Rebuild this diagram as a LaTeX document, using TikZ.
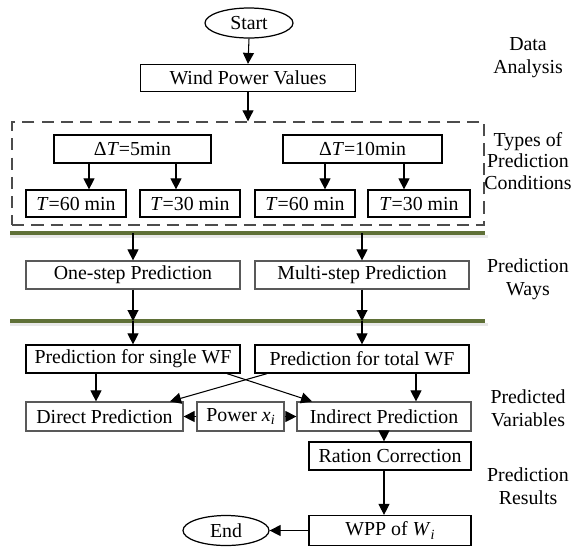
\documentclass[tikz,border=0pt]{standalone}
\usepackage{fontspec}
\setmainfont{Liberation Serif}
\usepackage{tikz}
\usetikzlibrary{arrows.meta,calc,shapes.geometric}

\definecolor{sepgreen}{RGB}{95,112,55}
\newcommand{\lowidx}[1]{\raisebox{-0.35ex}{\footnotesize\textit{#1}}}

\begin{document}
\begin{tikzpicture}[
  stepbox/.style={draw, line width=0.7pt, minimum height=5.6mm, minimum width=42.8mm, inner sep=1pt},
  softbox/.style={stepbox, draw=black!65},
  termnode/.style={draw, line width=0.7pt, ellipse, minimum width=17.6mm, minimum height=6mm, inner sep=0pt},
  condframe/.style={draw=black!70, line width=0.8pt, dash pattern=on 7pt off 4pt, minimum width=94.4mm, minimum height=20.6mm},
  sepbar/.style={line width=2.3pt, sepgreen},
  sepshadow/.style={line width=1.6pt, gray!18},
  stagelabel/.style={align=center, font=\fontsize{11.3}{13.2}\selectfont},
  arr/.style={-{Triangle[length=2.2mm, width=2.2mm]}, line width=0.6pt},
  every node/.style={font=\fontsize{11.3}{13.2}\selectfont}]
  \useasboundingbox (0,0) rectangle (11.5,-10.96);
  % Start and raw data
  \node[termnode] (start) at (4.98,-0.46) {Start};
  \node[stepbox, minimum width=43mm, minimum height=5.4mm] (wpv) at (4.96,-1.56) {Wind Power Values};
  \draw[arr] (start.south) -- (wpv.north);
  % Dashed frame round the prediction conditions
  \node[condframe] (cond) at (4.96,-3.47) {};
  \draw[arr] (wpv.south) -- (cond.north);
  \node[stepbox, minimum width=31.4mm] (dt5) at (2.65,-2.98) {Δ\textit{T}=5min};
  \node[stepbox, minimum width=31.8mm] (dt10) at (7.25,-2.98) {Δ\textit{T}=10min};
  \node[stepbox, minimum width=20mm, minimum height=5.4mm] (ta) at (1.52,-4.07) {\textit{T}=60 min};
  \node[stepbox, minimum width=20mm, minimum height=5.4mm] (tb) at (3.80,-4.07) {\textit{T}=30 min};
  \node[stepbox, minimum width=20mm, minimum height=5.4mm] (tc) at (6.10,-4.07) {\textit{T}=60 min};
  \node[stepbox, minimum width=20.4mm, minimum height=5.4mm] (td) at (8.38,-4.07) {\textit{T}=30 min};
  \draw[arr] ($(dt5.south)+(-0.87,0)$) coordinate (d1) -- (d1 |- ta.north);
  \draw[arr] ($(dt5.south)+(0.87,0)$) coordinate (d2) -- (d2 |- tb.north);
  \draw[arr] ($(dt10.south)+(-0.75,0)$) coordinate (d3) -- (d3 |- tc.north);
  \draw[arr] ($(dt10.south)+(0.83,0)$) coordinate (d4) -- (d4 |- td.north);
  % Green separators (with a faint shadow)
  \coordinate (sepA) at (0.2,-4.66);
  \coordinate (sepB) at (0.2,-6.42);
  \draw[sepshadow] ($(sepA)+(0,-0.07)$) -- ++(9.55,0);
  \draw[sepshadow] ($(sepB)+(0,-0.07)$) -- ++(9.55,0);
  \draw[sepbar] (sepA) -- ++(9.5,0);
  \draw[sepbar] (sepB) -- ++(9.5,0);
  % Prediction ways
  \node[softbox] (one) at (2.66,-5.50) {One-step Prediction};
  \node[softbox] (multi) at (7.24,-5.50) {Multi-step Prediction};
  \draw[arr] (sepA -| one) -- (one.north);
  \draw[arr] (sepA -| multi) -- (multi.north);
  \draw[arr] (one.south) -- (sepB -| one);
  \draw[arr] (multi.south) -- (sepB -| multi);
  % Predicted variables
  \node[stepbox] (single) at (2.66,-7.18) {Prediction for single WF};
  \node[stepbox] (total) at (7.24,-7.18) {Prediction for total WF};
  \draw[arr] (sepB -| one) -- (single.north);
  \draw[arr] (sepB -| multi) -- (total.north);
  \node[softbox, minimum width=31.4mm, minimum height=5.8mm] (direct) at (2.09,-8.33) {Direct Prediction};
  \node[softbox, minimum width=17.4mm, minimum height=5.8mm] (power) at (4.81,-8.33) {Power \textit{x}\lowidx{i}};
  \node[softbox, minimum width=34.8mm, minimum height=5.8mm] (indirect) at (7.68,-8.33) {Indirect Prediction};
  \draw[arr] ($(single.south)+(-0.74,0)$) coordinate (s1) -- (s1 |- direct.north);
  \draw[arr] ($(total.south)+(1.08,0)$) coordinate (t1) -- (t1 |- indirect.north);
  \draw[arr] ($(single.south)+(1.88,0)$) -- ($(indirect.north)+(-1.44,0)$);
  \draw[arr] ($(total.south)+(-1.9,0)$) -- ($(direct.north)+(1.31,0)$);
  \draw[arr] (power.west) -- (direct.east);
  \draw[arr] (power.east) -- (indirect.west);
  % Correction and results
  \node[stepbox, minimum width=32.4mm] (ration) at (7.80,-9.12) {Ration Correction};
  \node[stepbox, minimum width=32.4mm, minimum height=6mm] (wpp) at (7.80,-10.61) {WPP of \textit{W}\lowidx{i}};
  \node[termnode, minimum width=17.2mm] (end) at (4.52,-10.61) {End};
  \draw[arr] (indirect.south) -- (indirect.south |- ration.north);
  \draw[arr] (indirect.south |- ration.south) -- (indirect.south |- wpp.north);
  \draw[arr] (wpp.west) -- (end.east);
  % Stage names on the right
  \node[stagelabel] (lbdata) at (10.56,-1.16) {Data\\Analysis};
  \node[stagelabel, font=\fontsize{11.3}{12.4}\selectfont] (lbtypes) at (10.56,-3.22) {Types of\\Prediction\\Conditions};
  \node[stagelabel] (lbways) at (10.56,-5.58) {Prediction\\Ways};
  \node[stagelabel] (lbvars) at (10.56,-8.16) {Predicted\\Variables};
  \node[stagelabel] (lbres) at (10.56,-9.72) {Prediction\\Results};
\end{tikzpicture}
\end{document}
